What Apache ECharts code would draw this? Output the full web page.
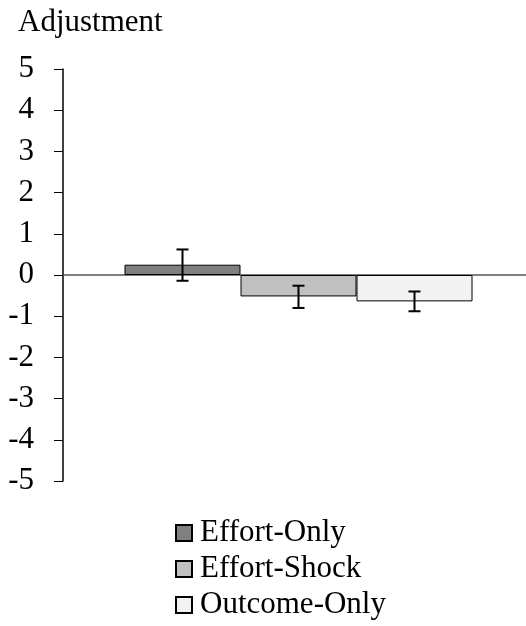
<!DOCTYPE html>
<html>
<head>
<meta charset="utf-8">
<style>
  html, body { margin: 0; padding: 0; background: #fff; }
  #chart { width: 526px; height: 626px; }
</style>
<script src="https://cdn.jsdelivr.net/npm/echarts@6/dist/echarts.min.js"></script>
</head>
<body>
<div id="chart"></div>
<script>
// Condition names, mean adjustment and error-bar bounds
const conditions = ['Effort-Only', 'Effort-Shock', 'Outcome-Only'];
const means = [0.25, -0.52, -0.64];
const errLow = [-0.14, -0.80, -0.88];
const errHigh = [0.62, -0.26, -0.40];
const fills = ['#808080', '#c0c0c0', '#f2f2f2'];
const yTicks = { min: -5, max: 5, interval: 1 };

const FONT = "'Liberation Serif', 'Times New Roman', serif";
const BAR_W = 116;

const chart = echarts.init(document.getElementById('chart'));

const barSeries = conditions.map((name, i) => ({
  name: name,
  type: 'bar',
  data: [means[i]],
  barWidth: BAR_W,
  barGap: '0%',
  itemStyle: { color: fills[i], borderColor: '#000', borderWidth: 1 },
  emphasis: { disabled: true },
  z: 2
}));

// Error bars drawn on top of each bar
const errorSeries = {
  type: 'custom',
  name: 'error',
  data: conditions.map((_, i) => [0, errLow[i], errHigh[i], i]),
  z: 5,
  renderItem: function (params, api) {
    const k = api.value(3);
    const off = (k - (conditions.length - 1) / 2) * BAR_W;
    const lo = api.coord([api.value(0), api.value(1)]);
    const hi = api.coord([api.value(0), api.value(2)]);
    const x = lo[0] + off;
    const cap = 6;
    const style = { stroke: '#000', lineWidth: 2, fill: null };
    return {
      type: 'group',
      children: [
        { type: 'line', shape: { x1: x, y1: hi[1], x2: x, y2: lo[1] }, style: style },
        { type: 'line', shape: { x1: x - cap, y1: hi[1], x2: x + cap, y2: hi[1] }, style: style },
        { type: 'line', shape: { x1: x - cap, y1: lo[1], x2: x + cap, y2: lo[1] }, style: style }
      ]
    };
  }
};

chart.setOption({
  animation: false,
  backgroundColor: '#fff',
  title: {
    text: 'Adjustment',
    left: 13,
    top: 2,
    textStyle: { fontFamily: FONT, fontSize: 31, fontWeight: 'normal', color: '#000' }
  },
  legend: {
    data: conditions,
    orient: 'vertical',
    left: 175,
    top: 515,
    height: 111,
    padding: 0,
    itemWidth: 16,
    itemHeight: 16,
    itemGap: 0,
    icon: 'rect',
    selectedMode: false,
    textStyle: { fontFamily: FONT, fontSize: 31, color: '#000', lineHeight: 36, padding: [0, 0, 0, 3] }
  },
  grid: { left: 63, right: -8, top: 69, bottom: 145, containLabel: false, outerBoundsMode: 'none' },
  xAxis: {
    type: 'category',
    data: [''],
    axisLine: { onZero: true, lineStyle: { color: '#555', width: 1.5 } },
    axisTick: { show: false },
    axisLabel: { show: false },
    splitLine: { show: false }
  },
  yAxis: {
    type: 'value',
    min: yTicks.min,
    max: yTicks.max,
    interval: yTicks.interval,
    axisLine: { show: true, lineStyle: { color: '#000', width: 1.5 } },
    axisTick: { show: true, length: 9, lineStyle: { color: '#000', width: 1 } },
    axisLabel: { fontFamily: FONT, fontSize: 31, color: '#000', margin: 29 },
    splitLine: { show: false }
  },
  series: barSeries.concat([errorSeries])
});
</script>
</body>
</html>
